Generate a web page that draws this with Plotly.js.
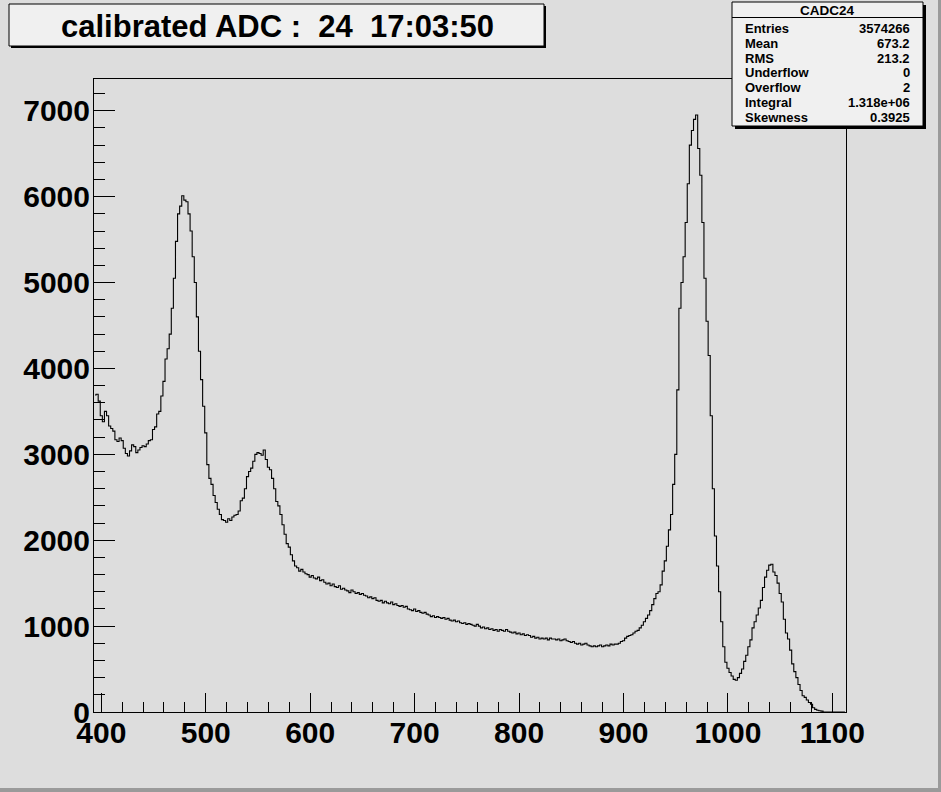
<!DOCTYPE html>
<html><head><meta charset="utf-8">
<script src="https://cdn.plot.ly/plotly-3.0.1.min.js"></script>
<style>html,body{margin:0;padding:0;background:#dddddd;overflow:hidden}#chart{width:941px;height:792px}</style>
</head><body><div id="chart"></div>
<script>
// ---- data ----
const binStart = 393;
const binWidth = 2;
const counts = [
3690,3700,3620,3450,3380,3500,3450,3330,3300,3270,
3170,3150,3190,3160,3070,3010,2980,3040,3110,3090,
3020,3050,3080,3100,3090,3120,3160,3170,3290,3320,
3470,3500,3680,3850,4110,4230,4400,4700,5050,5480,
5800,5890,6010,5960,5940,5800,5600,5300,5000,4600,
4200,3870,3560,3250,2880,2720,2650,2520,2440,2360,
2300,2240,2230,2210,2250,2230,2270,2290,2300,2340,
2460,2490,2600,2740,2800,2840,2920,3000,3020,3010,
2990,3050,2940,2850,2820,2720,2600,2450,2400,2300,
2180,2070,1960,1920,1830,1760,1700,1680,1640,1660,
1630,1610,1600,1570,1590,1560,1550,1570,1530,1540,
1510,1490,1500,1470,1490,1460,1450,1470,1430,1440,
1420,1410,1390,1420,1400,1380,1390,1370,1380,1360,
1350,1330,1340,1320,1330,1300,1290,1300,1270,1290,
1270,1260,1280,1250,1260,1240,1230,1240,1220,1230,
1200,1190,1180,1200,1170,1180,1160,1150,1160,1140,
1130,1110,1120,1100,1110,1100,1090,1100,1080,1090,
1070,1060,1070,1050,1060,1040,1030,1040,1020,1030,
1020,1010,1000,1020,1000,980,990,970,980,960,
970,950,960,940,960,950,940,960,940,930,
920,930,910,920,900,910,890,900,890,870,
880,860,870,850,860,850,860,840,860,850,
850,840,850,830,840,850,830,820,810,820,
800,790,800,780,790,800,780,770,760,770,
760,770,780,760,770,780,770,790,780,790,
790,800,820,830,860,880,890,900,920,940,
950,980,1010,1050,1090,1130,1180,1250,1320,1380,
1400,1480,1640,1760,1930,2120,2300,2650,3000,3750,
4700,5000,5300,5700,6150,6600,6770,6900,6950,6560,
6250,5700,5050,4550,4150,3450,2600,2050,1700,1400,
1050,760,580,510,460,420,380,370,400,450,
500,590,660,760,840,980,1050,1130,1210,1300,
1450,1570,1650,1710,1720,1630,1590,1500,1380,1280,
1080,920,850,720,560,470,400,320,250,190,
170,140,110,90,50,30,20,15,10,0,
0,0,0,0,0,0,0,0,0,0
];
const histName = 'CADC24';
const titleText = 'calibrated ADC :\u00a0\u00a024\u00a0\u00a017:03:50';
const statLabels = ['Entries','Mean','RMS','Underflow','Overflow','Integral','Skewness'];
const statValues = ['3574266','673.2','213.2','0','2','1.318e+06','0.3925'];
const xTickVals = [400,500,600,700,800,900,1000,1100];
const yTickVals = [0,1000,2000,3000,4000,5000,6000,7000];
const xRange = [393, 1113];
const yRange = [0, 7370];

// ---- layout geometry (pixels) ----
const W = 941, H = 792, L = 94, R = 846, T = 79, B = 712;
const fx = p => (p - L) / (R - L);
const fy = p => (B - p) / (B - T);
const FONT = 'Liberation Sans, Arial, Helvetica, sans-serif';

const shapes = [];
const annotations = [];
function box(x0, y0, x1, y1, fill, sh) {
  shapes.push({type:'rect', xref:'paper', yref:'paper', x0:fx(x0+sh), x1:fx(x1+sh), y0:fy(y1+sh), y1:fy(y0+sh),
    fillcolor:'#000', line:{width:0}});
  shapes.push({type:'rect', xref:'paper', yref:'paper', x0:fx(x0), x1:fx(x1), y0:fy(y1), y1:fy(y0),
    fillcolor:fill, line:{color:'#000', width:1}});
}
// title box
box(9, 4, 544, 46, '#f0f0f0', 2);
annotations.push({xref:'paper', yref:'paper', x:fx(277), y:fy(26.5), xanchor:'center', yanchor:'middle',
  text:titleText, showarrow:false, font:{family:FONT, size:31, color:'#000', weight:'bold'}});
// stats box
box(732, 2, 923, 126, '#f0f0f0', 3);
shapes.push({type:'line', xref:'paper', yref:'paper', x0:fx(732), x1:fx(923), y0:fy(17.5), y1:fy(17.5), line:{color:'#000', width:1}});
annotations.push({xref:'paper', yref:'paper', x:fx(827), y:fy(10), xanchor:'center', yanchor:'middle',
  text:histName, showarrow:false, font:{family:FONT, size:13.5, color:'#000', weight:'bold'}});
statLabels.forEach((lab, i) => {
  const yy = 28.5 + i * 14.8;
  annotations.push({xref:'paper', yref:'paper', x:fx(743), y:fy(yy), xanchor:'left', yanchor:'middle',
    text:lab, showarrow:false, font:{family:FONT, size:13, color:'#000', weight:'bold'}});
  annotations.push({xref:'paper', yref:'paper', x:fx(912), y:fy(yy), xanchor:'right', yanchor:'middle',
    text:statValues[i], showarrow:false, font:{family:FONT, size:13, color:'#000', weight:'bold'}});
});
// canvas bevel
shapes.push({type:'rect', xref:'paper', yref:'paper', x0:fx(0), x1:fx(W), y0:fy(H), y1:fy(H-4), fillcolor:'#9a9a9a', line:{width:0}});
shapes.push({type:'rect', xref:'paper', yref:'paper', x0:fx(W-3), x1:fx(W), y0:fy(H), y1:fy(0), fillcolor:'#9a9a9a', line:{width:0}});

const trace = {
  type:'scatter', mode:'lines', y:counts, x0:binStart + binWidth/2, dx:binWidth,
  line:{shape:'hvh', color:'#000', width:1.1}, hoverinfo:'skip', showlegend:false
};

const tickFont = {family:FONT, size:30, color:'#000', weight:'bold'};
const layout = {
  width:W, height:H, margin:{l:L, r:W-R, t:T, b:H-B, pad:0},
  paper_bgcolor:'#dddddd', plot_bgcolor:'#dddddd', showlegend:false,
  xaxis:{range:xRange, tickvals:xTickVals, ticktext:xTickVals.map(String), ticks:'inside', ticklen:19, tickwidth:1, tickcolor:'#000',
    ticklabelstandoff:-6,
    minor:{dtick:20, tick0:400, ticks:'inside', ticklen:10, tickwidth:1, tickcolor:'#000', showgrid:false},
    showline:true, linecolor:'#000', linewidth:1, mirror:true, showgrid:false, zeroline:false, tickfont:tickFont},
  yaxis:{range:yRange, tickvals:yTickVals, ticktext:yTickVals.map(String), ticks:'inside', ticklen:21, tickwidth:1, tickcolor:'#000',
    ticklabelstandoff:-3,
    minor:{dtick:200, tick0:0, ticks:'inside', ticklen:11, tickwidth:1, tickcolor:'#000', showgrid:false},
    showline:true, linecolor:'#000', linewidth:1, mirror:true, showgrid:false, zeroline:false, tickfont:tickFont},
  shapes:shapes, annotations:annotations
};
Plotly.newPlot('chart', [trace], layout, {staticPlot:true, displayModeBar:false});
</script>
</body></html>
